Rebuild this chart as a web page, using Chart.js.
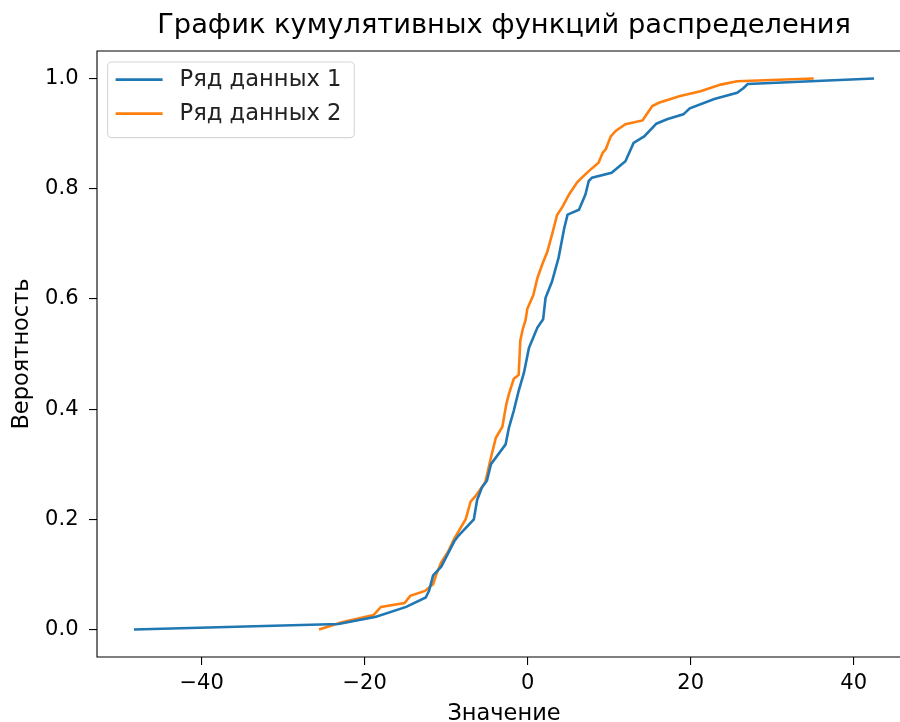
<!DOCTYPE html>
<html lang="ru">
<head>
<meta charset="UTF-8">
<title>График кумулятивных функций распределения</title>
<style>
  html, body { margin: 0; padding: 0; background: #fff; overflow: hidden; }
</style>
</head>
<body>
<div style="width:900px;height:722px"><canvas id="cdfChart" width="900" height="722"></canvas></div>
<script src="https://cdn.jsdelivr.net/npm/chart.js"></script>
<script>
const titleText = 'График кумулятивных функций распределения';
const xLabel = 'Значение';
const yLabel = 'Вероятность';
const seriesNames = ['Ряд данных 1', 'Ряд данных 2'];
const xTicks = [-40, -20, 0, 20, 40];
const yTicks = [0, 0.2, 0.4, 0.6, 0.8, 1.0];

// values (sorted value -> cumulative probability)
const series1X = [-48.3, -23.2, -18.6, -14.9, -12.5, -12.1, -11.6, -10.6, -9.9, -9.0, -8.5,
  -6.6, -6.2, -5.6, -5.0, -4.5, -2.7, -2.3, -1.7, -1.1, -0.45, 0.16, 1.2, 1.9, 2.2, 3.0,
  3.8, 4.5, 4.9, 6.3, 7.1, 7.5, 7.9, 10.3, 12.0, 13.0, 14.3, 15.8, 17.1, 19.1, 19.9,
  22.9, 25.7, 26.5, 27.0, 42.5];
const series1Y = [0.0, 0.01, 0.023, 0.041, 0.058, 0.07, 0.098, 0.114, 0.134, 0.16, 0.17,
  0.2, 0.235, 0.258, 0.27, 0.30, 0.336, 0.366, 0.397, 0.433, 0.466, 0.511, 0.548, 0.563, 0.602, 0.632,
  0.675, 0.729, 0.753, 0.762, 0.79, 0.814, 0.82, 0.829, 0.85, 0.883, 0.895, 0.918, 0.926, 0.935, 0.946,
  0.963, 0.974, 0.983, 0.99, 1.0];

const series2X = [-25.6, -22.8, -18.9, -18.0, -15.1, -14.4, -12.6, -11.6, -11.2, -10.6, -9.8,
  -9.0, -7.6, -7.0, -6.4, -5.2, -4.5, -3.9, -3.1, -2.6, -2.3, -1.7, -1.1, -0.9, -0.6, -0.25,
  -0.04, 0.7, 1.2, 1.8, 2.4, 3.0, 3.6, 4.3, 5.1, 6.1, 6.5, 7.5, 8.7, 9.2, 9.6, 10.2, 10.8,
  12.0, 14.1, 14.5, 15.3, 16.1, 18.6, 21.2, 23.7, 25.7, 35.1];
const series2Y = [0.0, 0.013, 0.026, 0.041, 0.048, 0.061, 0.07, 0.082, 0.1, 0.122, 0.14,
  0.165, 0.2, 0.232, 0.242, 0.267, 0.312, 0.348, 0.368, 0.41, 0.427, 0.455, 0.462, 0.524, 0.545, 0.562,
  0.582, 0.607, 0.638, 0.663, 0.685, 0.717, 0.752, 0.768, 0.79, 0.812, 0.818, 0.832, 0.847, 0.865, 0.872, 0.895, 0.905,
  0.917, 0.924, 0.933, 0.95, 0.956, 0.968, 0.977, 0.989, 0.995, 1.0];

const colors = ['#1f77b4', '#ff7f0e'];

function toPoints(xs, ys) {
  return xs.map((x, i) => ({ x: x, y: ys[i] }));
}

Chart.defaults.font.family = '"DejaVu Sans", sans-serif';
Chart.defaults.color = '#000';

// spines, title, x label and legend drawn the matplotlib way
// (the right spine of the original falls just outside the picture)
const mplDecor = {
  id: 'mplDecor',
  afterDraw(chart) {
    const ctx = chart.ctx;
    const a = chart.chartArea;
    const fullRight = a.left + 814; // where the axes box would end
    ctx.save();
    // keep the cut-off right edge clean
    ctx.fillStyle = '#fff';
    ctx.fillRect(a.right - 3, a.top + 1, 3, a.bottom - a.top - 2);

    ctx.strokeStyle = '#000';
    ctx.lineWidth = 1.1;
    ctx.beginPath();
    ctx.moveTo(fullRight, a.top);
    ctx.lineTo(a.left, a.top);
    ctx.lineTo(a.left, a.bottom);
    ctx.lineTo(fullRight, a.bottom);
    ctx.stroke();

    // title and x label, centred on the full axes box
    ctx.fillStyle = '#000';
    ctx.textAlign = 'center';
    ctx.textBaseline = 'alphabetic';
    ctx.font = '27.3px "DejaVu Sans"';
    ctx.fillText(titleText, (a.left + fullRight) / 2, a.top - 18.3);
    ctx.font = '22.5px "DejaVu Sans"';
    ctx.fillText(xLabel, (a.left + fullRight) / 2, a.bottom + 63);

    // legend box
    const bx = a.left + 10.6, by = a.top + 11, bw = 246.7, bh = 75.6, r = 4;
    ctx.beginPath();
    ctx.moveTo(bx + r, by);
    ctx.arcTo(bx + bw, by, bx + bw, by + bh, r);
    ctx.arcTo(bx + bw, by + bh, bx, by + bh, r);
    ctx.arcTo(bx, by + bh, bx, by, r);
    ctx.arcTo(bx, by, bx + bw, by, r);
    ctx.closePath();
    ctx.fillStyle = 'rgba(255,255,255,0.8)';
    ctx.fill();
    ctx.strokeStyle = 'rgba(204,204,204,0.8)';
    ctx.lineWidth = 1.1;
    ctx.stroke();

    ctx.font = '22.6px "DejaVu Sans"';
    ctx.textAlign = 'left';
    ctx.textBaseline = 'middle';
    chart.data.datasets.forEach((ds, i) => {
      const ly = by + 17.6 + i * 34;
      ctx.strokeStyle = ds.borderColor;
      ctx.lineWidth = 2.6;
      ctx.beginPath();
      ctx.moveTo(bx + 8, ly);
      ctx.lineTo(bx + 55, ly);
      ctx.stroke();
      ctx.fillStyle = '#222';
      ctx.fillText(ds.label, bx + 72, ly + 1);
    });
    ctx.restore();
  }
};

const ctx = document.getElementById('cdfChart');

const cdfChart = new Chart(ctx, {
  type: 'scatter',
  data: {
    datasets: [
      {
        label: seriesNames[0],
        data: toPoints(series1X, series1Y),
        showLine: true,
        borderColor: colors[0],
        backgroundColor: colors[0],
        borderWidth: 2.6,
        pointRadius: 0,
        tension: 0
      },
      {
        label: seriesNames[1],
        data: toPoints(series2X, series2Y),
        showLine: true,
        borderColor: colors[1],
        backgroundColor: colors[1],
        borderWidth: 2.6,
        pointRadius: 0,
        tension: 0
      }
    ]
  },
  options: {
    responsive: false,
    animation: false,
    layout: { padding: { top: 51, right: 0, left: 0, bottom: 0 } },
    plugins: {
      legend: { display: false },
      title: { display: false },
      tooltip: { enabled: false }
    },
    scales: {
      x: {
        type: 'linear',
        min: -52.84,
        max: 45.69,
        afterBuildTicks: s => { s.ticks = xTicks.map(v => ({ value: v })); },
        afterFit: s => { s.height = 65; },
        ticks: {
          autoSkip: false,
          maxRotation: 0,
          padding: 6,
          font: { size: 21 },
          color: '#000',
          callback: v => (v < 0 ? '\u2212' + Math.abs(v) : String(v))
        },
        grid: { display: true, drawOnChartArea: false, drawTicks: true, tickLength: 8, color: '#000', lineWidth: 1.1 },
        border: { display: false },
        title: { display: false }
      },
      y: {
        type: 'linear',
        min: -0.05,
        max: 1.05,
        afterBuildTicks: s => { s.ticks = yTicks.map(v => ({ value: v })); },
        afterFit: s => { s.width = 97; },
        ticks: {
          autoSkip: false,
          padding: 10.5,
          font: { size: 21 },
          color: '#000',
          callback: v => Number(v).toFixed(1)
        },
        grid: { display: true, drawOnChartArea: false, drawTicks: true, tickLength: 8, color: '#000', lineWidth: 1.1 },
        border: { display: false },
        title: {
          display: true,
          text: yLabel,
          font: { size: 22.5, lineHeight: 1 },
          color: '#000',
          padding: { top: 11, bottom: 0 }
        }
      }
    }
  },
  plugins: [mplDecor]
});
</script>
</body>
</html>
